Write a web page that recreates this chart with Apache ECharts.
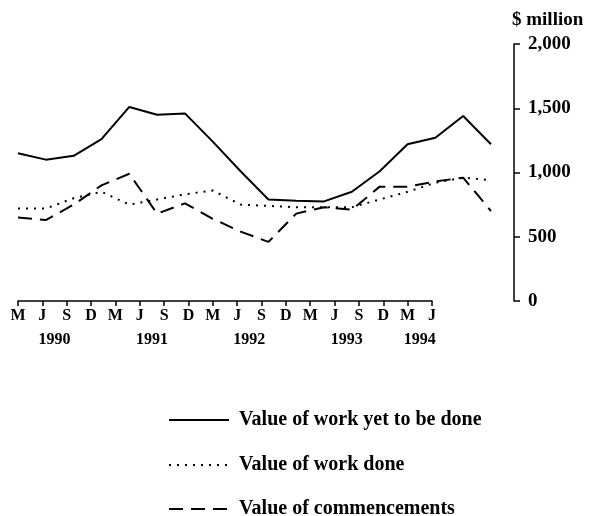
<!DOCTYPE html>
<html>
<head>
<meta charset="utf-8">
<script src="https://cdn.jsdelivr.net/npm/echarts@6/dist/echarts.min.js"></script>
<style>html,body{margin:0;padding:0;background:#fff}#c{width:591px;height:516px}</style>
</head>
<body>
<div id="c"></div>
<script>
// Quarter labels (March 1990 .. June 1994)
const months = ['M','J','S','D','M','J','S','D','M','J','S','D','M','J','S','D','M','J'];
// Year labels sit between ticks (17 intervals)
const yearLabels = ['','1990','','','','1991','','','','1992','','','','1993','','','1994'];
const yTicks = [0, 500, 1000, 1500, 2000];
const seriesNames = ['Value of work yet to be done','Value of work done','Value of commencements'];

// $ million
const yetToBeDone = [1150,1100,1130,1260,1510,1450,1460,1240,1010,790,780,775,850,1010,1220,1270,1440,1220];
const workDone    = [720,720,800,850,750,790,830,860,750,740,730,730,730,790,850,920,960,940];
const commencements = [650,630,750,900,990,680,760,640,540,460,680,730,710,890,890,930,960,700];

const FONT = 'Liberation Serif';
const chart = echarts.init(document.getElementById('c'));
const lineCommon = {type:'line', symbol:'none', xAxisIndex:0, yAxisIndex:0, smooth:false};
const legendCommon = {orient:'vertical', left:168, padding:0, itemWidth:60, itemHeight:14,
  itemStyle:{opacity:0},
  textStyle:{color:'#000', fontFamily:FONT, fontWeight:'bold', fontSize:20, padding:[0,0,0,5]}};
chart.setOption({
  animation:false,
  backgroundColor:'#fff',
  textStyle:{fontFamily:FONT, color:'#000'},
  grid:[
    {left:18, right:100, top:44, bottom:215},
    {left:18, right:159, top:44, bottom:215}
  ],
  xAxis:[
    {type:'category', gridIndex:0, data:months, boundaryGap:false, show:false},
    {type:'category', gridIndex:1, data:months, boundaryGap:false,
      axisLine:{lineStyle:{color:'#000', width:1.5}},
      axisTick:{show:true, length:5, lineStyle:{color:'#000', width:1.5}, interval:0},
      axisLabel:{interval:0, margin:7, color:'#000', fontFamily:FONT, fontWeight:'bold', fontSize:16},
      splitLine:{show:false}},
    {type:'category', gridIndex:1, data:yearLabels, boundaryGap:true, position:'bottom', offset:24,
      axisLine:{show:false}, axisTick:{show:false},
      axisLabel:{interval:0, margin:7, color:'#000', fontFamily:FONT, fontWeight:'bold', fontSize:16},
      splitLine:{show:false}}
  ],
  yAxis:[
    {type:'value', gridIndex:0, position:'right', offset:23, min:yTicks[0], max:yTicks[yTicks.length-1], interval:500,
      name:'$ million', nameLocation:'end', nameGap:14,
      nameTextStyle:{color:'#000', fontFamily:FONT, fontWeight:'bold', fontSize:19, align:'left', padding:[0,0,0,-2]},
      axisLine:{show:true, lineStyle:{color:'#000', width:1.5}},
      axisTick:{show:true, length:6, lineStyle:{color:'#000', width:1.5}},
      axisLabel:{margin:14, color:'#000', fontFamily:FONT, fontWeight:'bold', fontSize:19},
      splitLine:{show:false}},
    {type:'value', gridIndex:1, min:0, max:2000, show:false}
  ],
  legend:[
    Object.assign({top:410, data:[seriesNames[0]]}, legendCommon),
    Object.assign({top:455, data:[seriesNames[1]]}, legendCommon),
    Object.assign({top:499, data:[seriesNames[2]]}, legendCommon)
  ],
  series:[
    Object.assign({name:seriesNames[0], data:yetToBeDone,
      lineStyle:{color:'#000', width:2, type:'solid'}, itemStyle:{color:'#000'}}, lineCommon),
    Object.assign({name:seriesNames[1], data:workDone,
      lineStyle:{color:'#000', width:2, type:[2,6]}, itemStyle:{color:'#000'}}, lineCommon),
    Object.assign({name:seriesNames[2], data:commencements,
      lineStyle:{color:'#000', width:2, type:[14,8]}, itemStyle:{color:'#000'}}, lineCommon)
  ]
});
</script>
</body>
</html>
